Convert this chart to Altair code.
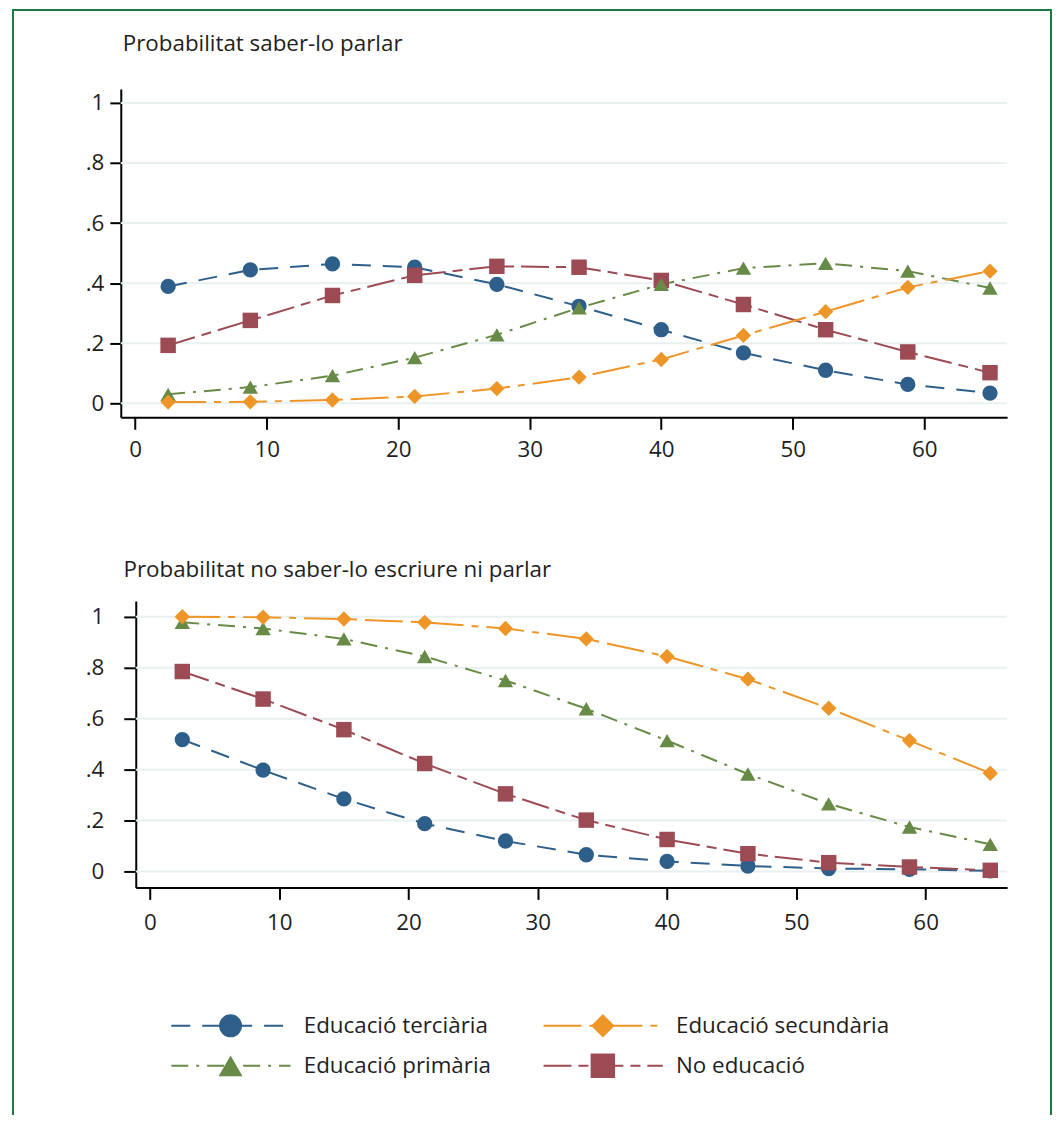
import altair as alt
import pandas as pd

# ---------------- data ----------------
ages = [2.5, 8.75, 15, 21.25, 27.5, 33.75, 40, 46.25, 52.5, 58.75, 65]
x_ticks = [0, 10, 20, 30, 40, 50, 60]
y_ticks = [0, 0.2, 0.4, 0.6, 0.8, 1]

series_names = ["Educació terciària", "Educació secundària", "Educació primària", "No educació"]
series_colors = ["#2d5f8a", "#ee9527", "#678a46", "#9c4a53"]
series_shapes = ["circle", "diamond", "triangle-up", "square"]
series_dashes = [[19, 12], [38, 8, 7, 8], [17, 8, 3, 8], [28, 7, 10, 7]]
marker_sizes = [235, 240, 240, 160]
legend_sizes = [529, 600, 480, 330]
legend_col = [0, 1, 0, 1]
legend_row = [0, 0, 1, 1]
draw_order = ["Educació terciària", "No educació", "Educació primària", "Educació secundària"]

title_top = "Probabilitat saber-lo parlar"
title_bottom = "Probabilitat no saber-lo escriure ni parlar"

# panel 1: saber-lo parlar
parlar_terciaria = [0.389, 0.444, 0.464, 0.453, 0.396, 0.323, 0.245, 0.168, 0.110, 0.063, 0.034]
parlar_secundaria = [0.004, 0.005, 0.011, 0.023, 0.049, 0.087, 0.146, 0.226, 0.305, 0.386, 0.440]
parlar_primaria = [0.030, 0.054, 0.092, 0.152, 0.228, 0.318, 0.396, 0.450, 0.466, 0.440, 0.384]
parlar_noeduc = [0.193, 0.276, 0.359, 0.426, 0.456, 0.453, 0.409, 0.329, 0.245, 0.171, 0.102]

# panel 2: no saber-lo escriure ni parlar
cap_terciaria = [0.518, 0.398, 0.285, 0.188, 0.120, 0.066, 0.040, 0.022, 0.012, 0.009, 0.003]
cap_secundaria = [1.000, 0.998, 0.991, 0.978, 0.954, 0.913, 0.844, 0.755, 0.641, 0.514, 0.386]
cap_primaria = [0.978, 0.954, 0.913, 0.844, 0.750, 0.639, 0.514, 0.383, 0.266, 0.175, 0.107]
cap_noeduc = [0.785, 0.677, 0.557, 0.424, 0.305, 0.202, 0.126, 0.070, 0.035, 0.018, 0.005]

FONT = "Open Sans"
FS = 22.4
TXT = "#1e1e1e"
GRID = "#e8f0f1"
BORDER = "#1b7a3f"
W = 888


def panel_df(vals):
    rows = []
    for name in draw_order:
        i = series_names.index(name)
        for a, v in zip(ages, vals[i]):
            rows.append({"age": a, "prob": v, "serie": name})
    return pd.DataFrame(rows)


color_enc = alt.Color("serie:N", scale=alt.Scale(domain=series_names, range=series_colors), legend=None)
dash_enc = alt.StrokeDash("serie:N", scale=alt.Scale(domain=series_names, range=series_dashes), legend=None)
shape_enc = alt.Shape("serie:N", scale=alt.Scale(domain=series_names, range=series_shapes), legend=None)

ylabel_expr = ("datum.value == 0 ? '0' : datum.value == 1 ? '1' : "
               "replace(format(datum.value, '.1f'), '0.', '.')")


def panel(df, title, left, height, ydom, title_dx, title_offset, ylab_pad, ytick, xlab_pad):
    xs = alt.Scale(domain=[-1.1, 66.3], range=[left, W], nice=False, zero=False)
    ys = alt.Scale(domain=ydom, nice=False, zero=False)
    xaxis = alt.Axis(values=x_ticks, title=None, grid=False, tickSize=12,
                     labelPadding=xlab_pad, format="d")
    yaxis = alt.Axis(values=y_ticks, title=None, grid=False, offset=-left,
                     tickSize=ytick, labelPadding=ylab_pad, labelExpr=ylabel_expr)
    grid = alt.Chart(pd.DataFrame({"prob": y_ticks})).mark_rule(color=GRID, strokeWidth=2).encode(
        y=alt.Y("prob:Q", scale=ys, axis=yaxis), x=alt.value(left), x2=alt.value(W))
    base = alt.Chart(df)
    x = alt.X("age:Q", scale=xs, axis=xaxis)
    y = alt.Y("prob:Q", scale=ys, axis=yaxis)
    lines = base.mark_line(strokeWidth=2).encode(x=x, y=y, color=color_enc, strokeDash=dash_enc)
    pts = base.mark_point(filled=True, opacity=1, strokeWidth=0).encode(
        x=x, y=y, color=color_enc, shape=shape_enc,
        size=alt.Size("serie:N", scale=alt.Scale(domain=series_names, range=marker_sizes), legend=None))
    return alt.layer(grid, lines, pts).properties(
        width=W, height=height,
        title=alt.TitleParams(title, anchor="start", frame="group", dx=title_dx, offset=title_offset,
                              baseline="alphabetic", font=FONT, fontSize=FS, fontWeight="normal",
                              color=TXT))


top = panel(panel_df([parlar_terciaria, parlar_secundaria, parlar_primaria, parlar_noeduc]),
            title_top, 0, 329, [-0.0465, 1.0465], 2, 16, 6, 11, 9.5)
bottom = panel(panel_df([cap_terciaria, cap_secundaria, cap_primaria, cap_noeduc]),
               title_bottom, 15, 287, [-0.062, 1.062], 2.7, 2, 20, 12, 12.5)

# ---------------- legend ----------------
leg_df = pd.DataFrame({"serie": series_names, "col": legend_col, "row": legend_row})
leg_base = alt.Chart(leg_df).transform_calculate(
    x0="50.6 + datum.col * 373",
    x1="170 + datum.col * 373",
    xm="110 + datum.col * 373",
    xt="183.3 + datum.col * 373",
    yy="-45.3 + datum.row * 40",
)
lx = alt.Scale(domain=[0, W], nice=False, zero=False)
ly = alt.Scale(domain=[0, 60], reverse=True, nice=False, zero=False)
leg_lines = leg_base.mark_rule(strokeWidth=2).encode(
    x=alt.X("x0:Q", scale=lx, axis=None), x2="x1:Q",
    y=alt.Y("yy:Q", scale=ly, axis=None), color=color_enc, strokeDash=dash_enc)
leg_pts = leg_base.mark_point(filled=True, opacity=1, strokeWidth=0).encode(
    x=alt.X("xm:Q", scale=lx, axis=None), y=alt.Y("yy:Q", scale=ly, axis=None),
    color=color_enc, shape=shape_enc,
    size=alt.Size("serie:N", scale=alt.Scale(domain=series_names, range=legend_sizes), legend=None))
leg_txt = leg_base.mark_text(align="left", baseline="middle", font=FONT, fontSize=FS, color=TXT).encode(
    x=alt.X("xt:Q", scale=lx, axis=None), y=alt.Y("yy:Q", scale=ly, axis=None), text="serie:N")

bdf = pd.DataFrame({"k": [0]})
b_left = alt.Chart(bdf).mark_rule(color=BORDER, strokeWidth=2).encode(
    x=alt.value(-108), y=alt.value(-1063), y2=alt.value(44))
b_top = alt.Chart(bdf).mark_rule(color=BORDER, strokeWidth=2).encode(
    x=alt.value(-109), x2=alt.value(933), y=alt.value(-1063))
b_right = alt.Chart(bdf).mark_rule(color=BORDER, strokeWidth=2).encode(
    x=alt.value(932), y=alt.value(-1063), y2=alt.value(44))

legend = alt.layer(leg_lines, leg_pts, leg_txt, b_left, b_top, b_right).properties(width=W, height=60)

chart = alt.vconcat(top, bottom, legend, spacing=184, bounds="flush").resolve_scale(
    size="independent"
).properties(
    padding={"left": 3, "top": 0, "right": 0, "bottom": 0}
).configure_view(strokeWidth=0).configure_axis(
    domainColor="#000000", domainWidth=2, tickColor="#000000", tickWidth=2,
    labelFont=FONT, labelFontSize=FS, labelColor=TXT
)

chart.save("out.html", embed_options={"renderer": "svg", "actions": False})
